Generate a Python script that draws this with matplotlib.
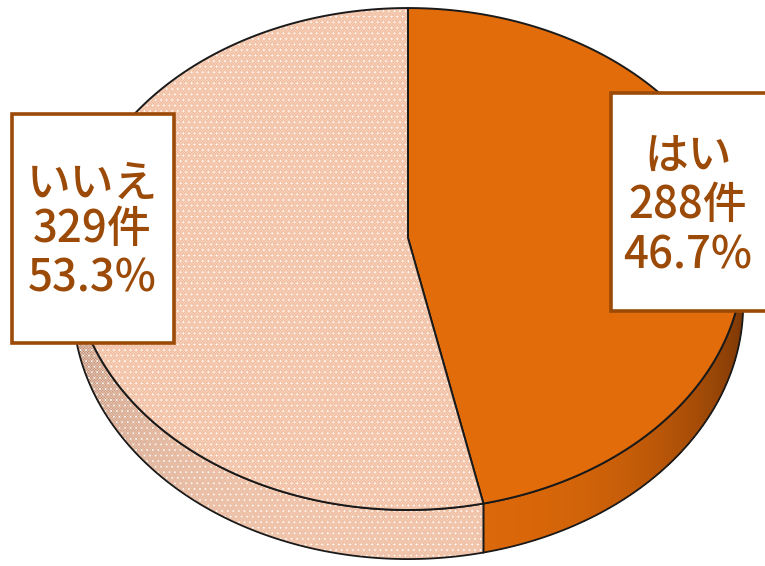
import numpy as np
import matplotlib
matplotlib.use("Agg")
import matplotlib.pyplot as plt
from matplotlib.patches import Polygon, Rectangle

# data
labels = ["はい", "いいえ"]
counts = [288, 329]
colors_top = ["#E36C0A", "#FAD8C4"]
total = sum(counts)
pcts = [c / total * 100 for c in counts]

# tilted pie geometry (pixel space)
cx, cy = 408, 238
A, B = 334, 249.2
k = 0.0837
depth = 45

def pt(t, drop=0.0):
    u = np.sin(t)
    v = -np.cos(t)
    s = 1.0 / (1 - k * v)
    return cx + A * u * s, cy + B * v * s + drop * s

def arc(t0, t1, drop=0.0, n=200):
    ts = np.linspace(t0, t1, n)
    xs, ys = pt(ts, drop)
    return np.column_stack([xs, ys])

plt.rcParams['hatch.linewidth'] = 0.45
fig = plt.figure(figsize=(7.65, 5.66), dpi=100)
ax = fig.add_axes([0, 0, 1, 1])
ax.set_xlim(0, 765)
ax.set_ylim(566, 0)
ax.axis("off")

bounds = np.concatenate([[0], np.cumsum(counts) / total * 2 * np.pi])

def shade(col, u, dark):
    c = np.array(matplotlib.colors.to_rgb(col))
    d = np.array(matplotlib.colors.to_rgb(dark))
    f = min(1, abs(u)) ** 3 * 0.85 + 0.06
    return c * (1 - f) + d * f

def texture(pts):
    ax.add_patch(Polygon(pts, closed=True, facecolor="none",
                         edgecolor="#F0BDA0", lw=0, hatch="xxxxxxxxxxxx"))
    ax.add_patch(Polygon(pts, closed=True, facecolor="none",
                         edgecolor="#FFFCF8", lw=0, hatch="..."))

# side walls (only front half visible)
for i in range(len(counts)):
    t0 = max(bounds[i], np.pi / 2)
    t1 = min(bounds[i + 1], 3 * np.pi / 2)
    if t1 <= t0:
        continue
    dark = "#6E3004" if i == 0 else "#8C7A74"
    ts = np.linspace(t0, t1, 120)
    for a0, a1 in zip(ts[:-1], ts[1:]):
        top = arc(a0, a1, 0, 3)
        bot = arc(a1, a0, depth, 3)
        ax.add_patch(Polygon(np.vstack([top, bot]), closed=True,
                             facecolor=shade(colors_top[i], np.sin((a0 + a1) / 2), dark),
                             edgecolor="none", lw=0, antialiased=False))
    top = arc(t0, t1, 0)
    bot = arc(t1, t0, depth)
    side = np.vstack([top, bot])
    if i == 1:
        texture(side)
    ax.add_patch(Polygon(side, closed=True, facecolor="none",
                         edgecolor="#1A1A1A", lw=1.3))

# top faces
for i in range(len(counts)):
    pts = np.vstack([[[cx, cy]], arc(bounds[i], bounds[i + 1])])
    ax.add_patch(Polygon(pts, closed=True, facecolor=colors_top[i],
                         edgecolor="none", lw=0))
    if i == 1:
        texture(pts)
    ax.add_patch(Polygon(pts, closed=True, facecolor="none",
                         edgecolor="#1A1A1A", lw=1.4))

# label boxes
brown = "#9C4A07"
boxes = [(611, 93, 170, 218), (12, 114, 162, 229)]
text_pos = [(688, [156, 206, 256]), (92, [184, 229, 279])]
for i in range(len(counts)):
    x0, y0, w, h = boxes[i]
    ax.add_patch(Rectangle((x0, y0), w, h, facecolor="white",
                           edgecolor=brown, lw=2.6, zorder=5))
    lines = [labels[i], f"{counts[i]}件", f"{pcts[i]:.1f}%"]
    tx, tys = text_pos[i]
    for s, ty in zip(lines, tys):
        ax.text(tx, ty, s, ha="center", va="center", fontsize=31.5,
                color=brown, fontweight="medium", zorder=6,
                family=["Noto Sans CJK JP", "DejaVu Sans"])

fig.savefig("out.png", dpi=100)
